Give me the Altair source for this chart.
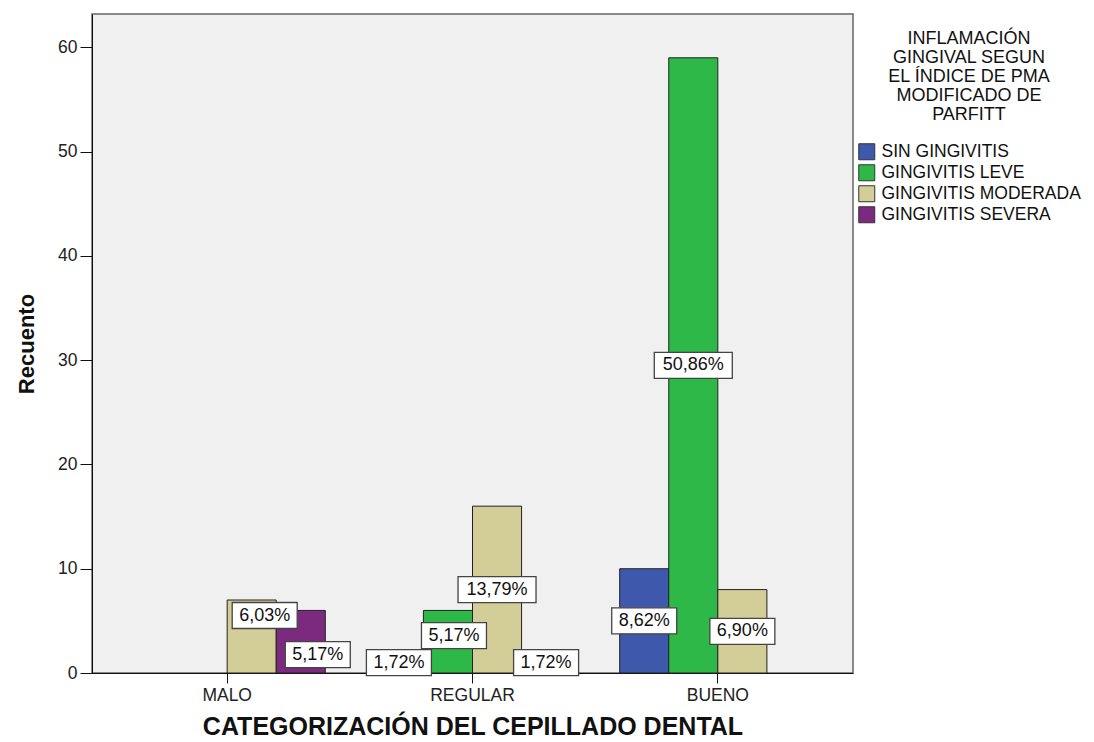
import altair as alt
import pandas as pd

categories = ["MALO", "REGULAR", "BUENO"]
series = ["SIN GINGIVITIS", "GINGIVITIS LEVE", "GINGIVITIS MODERADA", "GINGIVITIS SEVERA"]
counts_sin = [0, 2, 10]
counts_leve = [0, 6, 59]
counts_moderada = [7, 16, 8]
counts_severa = [6, 2, 0]
colors = ["#3E58AC", "#2EB848", "#D3CE97", "#7B2A7F"]
y_ticks = [0, 10, 20, 30, 40, 50, 60]
legend_title = ["INFLAMACIÓN", "GINGIVAL SEGUN", "EL ÍNDICE DE PMA", "MODIFICADO DE", "PARFITT"]

rows = []
for s, vals in zip(series, [counts_sin, counts_leve, counts_moderada, counts_severa]):
    for c, v in zip(categories, vals):
        rows.append({"cat": c, "series": s, "count": v})
df = pd.DataFrame(rows)

FONT = "Liberation Sans"
ymax = 63.2

x_axis = alt.Axis(title="CATEGORIZACIÓN DEL CEPILLADO DENTAL", labelAngle=0,
                  labelFontSize=17.5, labelFont=FONT, labelColor="#222",
                  tickSize=10, labelPadding=3, titleFontSize=25, titleFont=FONT,
                  titleFontWeight="bold", titleColor="#111", titleY=61,
                  titleBaseline="alphabetic")
y_axis = alt.Axis(title="Recuento", values=y_ticks, grid=False, tickSize=12,
                  labelPadding=3, labelFontSize=17.5, labelFont=FONT, labelColor="#222",
                  titleFontSize=22, titleFont=FONT, titleFontWeight="bold",
                  titleColor="#111", titleX=-59, titleY=329.5,
                  titleBaseline="alphabetic")
x_scale = alt.Scale(paddingInner=0.2, paddingOuter=0.151)
y_scale = alt.Scale(domain=[0, ymax], nice=False, zero=True)

xenc = alt.X("cat:N", sort=categories, scale=x_scale, axis=x_axis)
xoff = alt.XOffset("series:N", sort=series,
                   scale=alt.Scale(domain=series, paddingInner=0, paddingOuter=0))

base = alt.Chart(df)

bars = base.transform_filter("datum.count > 0").mark_bar(stroke="#222", strokeWidth=1).encode(
    x=xenc,
    xOffset=xoff,
    y=alt.Y("count:Q", scale=y_scale, axis=y_axis),
    color=alt.Color("series:N", sort=series,
                    scale=alt.Scale(domain=series, range=colors),
                    legend=alt.Legend(title=legend_title, orient="none", legendX=766, legendY=16,
                                      padding=0, titleFontSize=18, titleFont=FONT,
                                      titleFontWeight="normal", titleColor="#111",
                                      titleLineHeight=19, titleAnchor="middle",
                                      titleAlign="center", titlePadding=19, titleLimit=400,
                                      symbolType="square", symbolSize=256,
                                      symbolStrokeColor="#333", symbolStrokeWidth=1,
                                      symbolOpacity=1, labelFontSize=17.5, labelFont=FONT,
                                      labelColor="#111", labelOffset=6, labelLimit=300,
                                      rowPadding=0)),
)

lab_base = base.transform_joinaggregate(total="sum(count)").transform_calculate(
    pct="replace(format(datum.count / datum.total * 100, '.2f'), '.', ',') + '%'",
    mid="datum.count / 2",
).transform_filter("datum.count > 0")

nudged = [("MALO", "GINGIVITIS MODERADA", 13, -21),
          ("MALO", "GINGIVITIS SEVERA", 17, 13),
          ("REGULAR", "GINGIVITIS LEVE", 6, -6)]


def label_layers(filter_expr, box_w, dx=0, dy=0):
    hw, hh, u = box_w / 2, 13, 50.0
    x0, x1 = (dx - hw) / u, (dx + hw) / u
    y0, y1 = (dy - hh) / u, (dy + hh) / u
    path = f"M{x0:.3f},{y0:.3f}L{x1:.3f},{y0:.3f}L{x1:.3f},{y1:.3f}L{x0:.3f},{y1:.3f}Z"
    enc = dict(
        x=xenc,
        xOffset=xoff,
        y=alt.Y("mid:Q", scale=y_scale, axis=y_axis),
    )
    src = lab_base.transform_filter(filter_expr)
    box = src.mark_point(shape=path, size=10000, filled=True, fill="white",
                         stroke="#444", strokeWidth=1.3, opacity=1).encode(**enc)
    txt = src.mark_text(dx=dx, dy=dy, font=FONT, fontSize=18, color="#111",
                        align="center", baseline="middle").encode(**enc, text="pct:N")
    return [box, txt]


not_nudged = " && ".join(
    f"!(datum.cat == '{c}' && datum.series == '{s}')" for c, s, _, _ in nudged)

layers = [bars]
layers += label_layers(f"length(datum.pct) == 5 && {not_nudged}", 65)
layers += label_layers(f"length(datum.pct) > 5 && {not_nudged}", 78)
for c, s, dx, dy in nudged:
    layers += label_layers(f"datum.cat == '{c}' && datum.series == '{s}'", 65, dx, dy)

chart = alt.layer(*layers).properties(
    width=761, height=659,
    padding={"left": 84, "top": 6, "right": 233, "bottom": 66},
    autosize=alt.AutoSizeParams(type="none"),
    background="white",
).configure_view(
    fill="#F0F0F0", stroke="#666", strokeWidth=1.5
).configure_axis(
    domainColor="#111", tickColor="#111", domainWidth=1, tickWidth=1
)

chart.save("out.html", embed_options={"renderer": "svg", "actions": False})
